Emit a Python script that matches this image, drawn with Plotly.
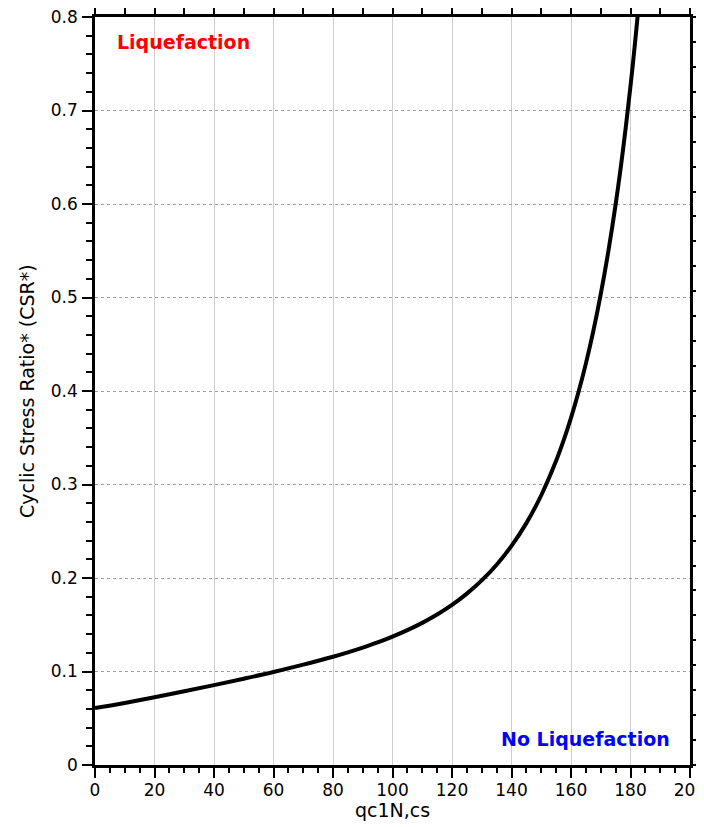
import plotly.graph_objects as go

# Values
qc1ncs = [0, 10, 20, 30, 40, 50, 60, 70, 80, 85, 90, 95, 100, 105, 110, 115, 120,
          125, 130, 135, 140, 145, 150, 155, 157.5, 160, 162.5, 165, 167.5, 170,
          172.5, 175, 177.5, 180, 181, 182, 183]
csr = [0.0608, 0.0664, 0.0724, 0.0788, 0.0854, 0.0923, 0.0995, 0.1073, 0.1158,
       0.1205, 0.1256, 0.1311, 0.1373, 0.1442, 0.1520, 0.1609, 0.1712, 0.1833,
       0.1974, 0.2142, 0.2344, 0.2587, 0.2885, 0.3253, 0.3470, 0.3713, 0.3986,
       0.4293, 0.4640, 0.5035, 0.5484, 0.5996, 0.6584, 0.7261, 0.7560, 0.7877,
       0.8213]

x_ticks = [0, 20, 40, 60, 80, 100, 120, 140, 160, 180, 200]
y_ticks = [0, 0.1, 0.2, 0.3, 0.4, 0.5, 0.6, 0.7, 0.8]
y_tick_text = ["0", "0.1", "0.2", "0.3", "0.4", "0.5", "0.6", "0.7", "0.8"]

x_title = "qc1N,cs"
y_title = "Cyclic Stress Ratio* (CSR*)"
label_liq = "Liquefaction"
label_noliq = "No Liquefaction"

FONT = "DejaVu Sans"

# the page body adds an 8px offset, so the figure is sized/margined to compensate
PLOT_W, PLOT_H = 595, 748
ML, MT = 87, 9
FIG_W, FIG_H = 704, 819

fig = go.Figure()
fig.add_trace(go.Scatter(x=qc1ncs, y=csr, mode="lines",
                         line=dict(color="black", width=4, shape="spline"),
                         showlegend=False, hoverinfo="skip"))
# helper trace so the top / right axes are drawn
fig.add_trace(go.Scatter(x=[None], y=[None], xaxis="x2", yaxis="y2",
                         mode="lines", showlegend=False, hoverinfo="skip"))

axis_common = dict(showline=True, linecolor="black", linewidth=2.5,
                   ticks="outside", tickcolor="black", tickwidth=2,
                   zeroline=False, mirror=False, automargin=False)

fig.update_layout(
    width=FIG_W, height=FIG_H,
    margin=dict(l=ML, r=FIG_W - ML - PLOT_W, t=MT, b=FIG_H - MT - PLOT_H),
    plot_bgcolor="white", paper_bgcolor="white",
    font=dict(family=FONT, size=17, color="black"),
    xaxis=dict(range=[0, 200], tickmode="array", tickvals=x_ticks,
               ticklen=10, ticklabelstandoff=-2, ticklabeloverflow="allow",
               showgrid=True, gridcolor="#cfcfcf", gridwidth=1,
               minor=dict(ticks="outside", dtick=5, ticklen=5, tickwidth=2,
                          tickcolor="black", showgrid=False),
               tickfont=dict(size=17),
               **axis_common),
    xaxis2=dict(range=[0, 200], overlaying="x", side="top", dtick=40,
                ticklen=10, showticklabels=False, showgrid=False,
                minor=dict(ticks="outside", dtick=10, ticklen=6, tickwidth=2,
                           tickcolor="black", showgrid=False),
                **axis_common),
    yaxis=dict(range=[0, 0.8], tickmode="array", tickvals=y_ticks,
               ticktext=y_tick_text, ticklen=10, ticklabelstandoff=1,
               ticklabeloverflow="allow",
               showgrid=True, gridcolor="#a0a0a0", gridwidth=1, griddash="dot",
               minor=dict(ticks="outside", dtick=0.02, ticklen=6, tickwidth=2,
                          tickcolor="black", showgrid=False),
               tickfont=dict(size=17),
               **axis_common),
    yaxis2=dict(range=[0, 6], overlaying="y", side="right", dtick=1,
                ticklen=10, showticklabels=False, showgrid=False,
                minor=dict(ticks="outside", dtick=0.2, ticklen=6, tickwidth=2,
                           tickcolor="black", showgrid=False),
                **axis_common),
    annotations=[
        dict(text=x_title, xref="paper", yref="paper",
             x=0.5, y=-45 / PLOT_H, xanchor="center", yanchor="middle",
             showarrow=False, font=dict(family=FONT, size=19, color="black")),
        dict(text=y_title, xref="paper", yref="paper", textangle=-90,
             x=-68 / PLOT_W, y=0.5, xanchor="center", yanchor="middle",
             showarrow=False, font=dict(family=FONT, size=19, color="black")),
        dict(text="<b>" + label_liq + "</b>", xref="paper", yref="paper",
             x=0.034, y=0.967, xanchor="left", yanchor="middle", showarrow=False,
             font=dict(family=FONT, size=19, color="#ff0000")),
        dict(text="<b>" + label_noliq + "</b>", xref="paper", yref="paper",
             x=0.97, y=0.0348, xanchor="right", yanchor="middle", showarrow=False,
             font=dict(family=FONT, size=19, color="#0000ff")),
    ],
)

fig.write_html("out.html")
